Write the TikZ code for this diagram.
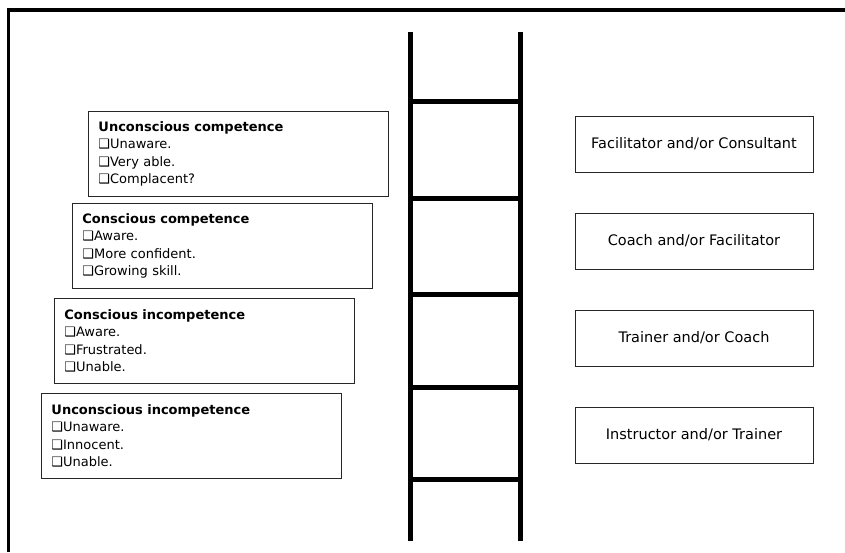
\documentclass[tikz,border=0pt]{standalone}
\usepackage{fontspec}
\setmainfont{DejaVu Sans}
\newcommand{\chk}{{\char"2751}}
\begin{document}
\begin{tikzpicture}[x=1pt,y=-1pt]
\useasboundingbox (0,0) rectangle (845,552);
% frame
\coordinate (fb) at (8.3,552);
\coordinate (fc) at (8.3,10);
\coordinate (fr) at (845,10);
\draw[line width=3.5pt] (fb) -- (fc) -- (fr);
% ladder
\coordinate (lt) at (410,32);
\coordinate (lb) at (410,541);
\coordinate (rt) at (520,32);
\coordinate (rb) at (520,541);
\path [line width=5pt] (lt) edge (lb);
\path [line width=5pt] (rt) edge (rb);
\foreach \y/\n in {101/1,198/2,294/3,387/4,479/5} {
  \coordinate (rl\n) at (410,\y);
  \coordinate (rr\n) at (520,\y);
  \path [line width=5pt] (rl\n) edge (rr\n);
}
% stages
 \begin{scope}[every node/.style={draw=black!85, line width=0.9pt, anchor=north west,
   text width=280pt, minimum height=85pt, inner xsep=10pt, align=left,
   font=\fontsize{13}{17.5}\selectfont}]
  \node (ucomp) at (88,111) {\textbf{Unconscious competence}\\\chk Unaware.\\\chk Very able.\\\chk Complacent?};
  \node (ccomp) at (72,203) {\textbf{Conscious competence}\\\chk Aware.\\\chk More confident.\\\chk Growing skill.};
  \node (cinc) at (54,298) {\textbf{Conscious incompetence}\\\chk Aware.\\\chk Frustrated.\\\chk Unable.};
  \node (uinc) at (41,393) {\textbf{Unconscious incompetence}\\\chk Unaware.\\\chk Innocent.\\\chk Unable.};
 \end{scope}
% roles
 \begin{scope}[every node/.style={draw=black!85, line width=0.9pt,
   minimum width=238pt, minimum height=56pt, font=\fontsize{14.5}{17}\selectfont}]
  \node (fac) at (694,144) {Facilitator and/or Consultant};
  \node (coach) at (694,241) {Coach and/or Facilitator};
  \node (train) at (694,338) {Trainer and/or Coach};
  \node (instr) at (694,435) {Instructor and/or Trainer};
 \end{scope}
\end{tikzpicture}
\end{document}
